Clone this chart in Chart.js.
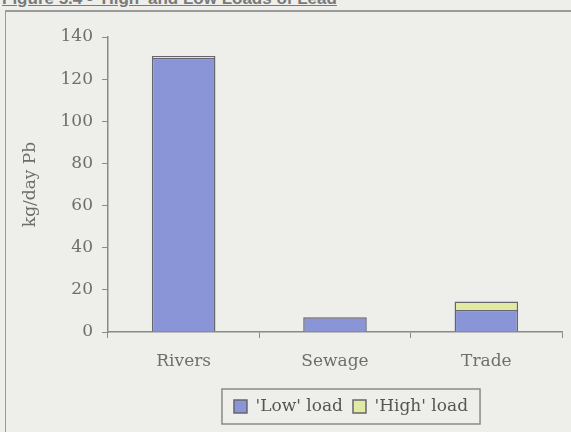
<!DOCTYPE html>
<html>
<head>
<meta charset="utf-8">
<script src="https://cdn.jsdelivr.net/npm/chart.js@4"></script>
<style>
  body { margin: 0; background: #eeeeea; width: 571px; height: 432px; overflow: hidden; position: relative; }
  #frame { position: absolute; left: 5px; top: 10px; width: 580px; height: 440px; border-left: 1px solid #9a9a9a; border-top: 2px solid #9a9a9a; }
  #title { position: absolute; left: 2px; top: -11px; font: bold 17px "Liberation Sans", Arial, sans-serif; color: #7a7a7a; text-decoration: underline; white-space: nowrap; }
  #wrap { position: absolute; left: 0; top: 0; width: 571px; height: 432px; }
</style>
</head>
<body>
<div id="frame"></div>
<div id="title">Figure 5.4 - 'High' and Low Loads of Lead</div>
<div id="wrap"><canvas id="myChart" width="571" height="432"></canvas></div>
<script>
// categories and values
const categories = ['Rivers', 'Sewage', 'Trade'];
const lowLoad = [130, 7, 10.5];
const highLoad = [1, 0, 4];
const yTicks = [0, 20, 40, 60, 80, 100, 120, 140];

const greyText = '#6e6e6e';
const serif = '"DejaVu Serif", "Liberation Serif", serif';

// legend sits right of centre in the original, with a box round it
const legendBox = {
    id: 'legendBox',
    afterLayout(chart) {
        chart.legend.left += 70;
        chart.legend.right += 70;
    },
    afterDraw(chart) {
        const boxes = chart.legend.legendHitBoxes;
        if (!boxes || !boxes.length) return;
        let l = Infinity, r = -Infinity, t = Infinity, b = -Infinity;
        boxes.forEach(h => {
            l = Math.min(l, h.left); r = Math.max(r, h.left + h.width);
            t = Math.min(t, h.top); b = Math.max(b, h.top + h.height);
        });
        const ctx = chart.ctx;
        ctx.save();
        ctx.strokeStyle = '#8a8a8a';
        ctx.lineWidth = 1.5;
        ctx.strokeRect(l - 12, t - 9, r - l + 24, b - t + 18);
        ctx.restore();
    }
};

var ctx = document.getElementById('myChart').getContext('2d');
var chart = new Chart(ctx, {
    type: 'bar',
    data: {
        labels: categories,
        datasets: [{
            label: "'Low' load",
            data: lowLoad,
            backgroundColor: '#8a95d8',
            borderColor: '#66666e',
            borderWidth: 1.5,
            categoryPercentage: 0.84,
            barPercentage: 0.5
        }, {
            label: "'High' load",
            data: highLoad,
            backgroundColor: '#e1e9a2',
            borderColor: '#66666e',
            borderWidth: 1.5,
            categoryPercentage: 0.84,
            barPercentage: 0.5
        }]
    },
    options: {
        responsive: false,
        animation: false,
        layout: { padding: { top: 37, right: 9, bottom: 7, left: 0 } },
        plugins: {
            tooltip: { enabled: false },
            legend: {
                position: 'bottom',
                labels: {
                    color: '#555',
                    font: { family: serif, size: 17 },
                    boxWidth: 13,
                    boxHeight: 13,
                    padding: 10
                }
            }
        },
        scales: {
            x: {
                stacked: true,
                border: { color: '#8a8a8a', width: 1.5 },
                grid: { offset: true, drawOnChartArea: false, tickLength: 6, color: '#8a8a8a' },
                ticks: { color: greyText, font: { family: serif, size: 17 }, padding: 13 },
                afterFit: s => { s.height = 56; }
            },
            y: {
                stacked: true,
                min: 0,
                max: 140,
                border: { color: '#8a8a8a', width: 1.5 },
                grid: { drawOnChartArea: false, tickLength: 6, color: '#8a8a8a' },
                afterBuildTicks: s => { s.ticks = yTicks.map(v => ({ value: v })); },
                ticks: { color: greyText, font: { family: serif, size: 17 }, padding: 9 },
                title: { display: true, text: 'kg/day Pb', color: greyText, font: { family: serif, size: 17 }, padding: { top: 20, bottom: 0 } },
                afterFit: s => { s.width = 108; }
            }
        }
    },
    plugins: [legendBox]
});
</script>
</body>
</html>
